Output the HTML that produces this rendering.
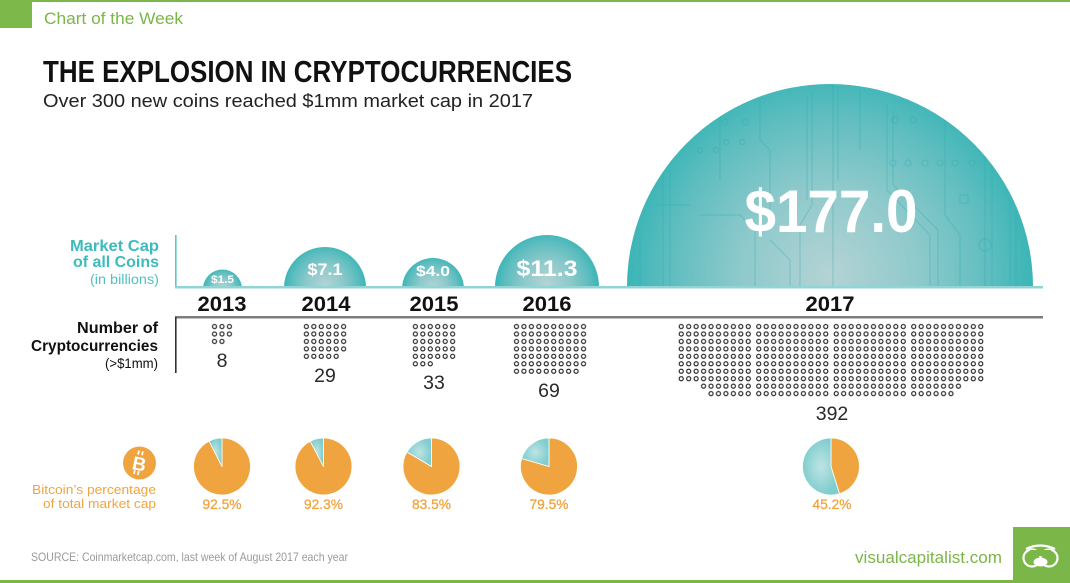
<!DOCTYPE html>
<html>
<head>
<meta charset="utf-8">
<style>
  html, body { margin:0; padding:0; background:#fff; }
  svg { display:block; font-family:"Liberation Sans", "DejaVu Sans", sans-serif; }
</style>
</head>
<body>
<svg width="1070" height="583" viewBox="0 0 1070 583" xmlns="http://www.w3.org/2000/svg">
  <defs>
    <radialGradient id="bub" cx="0.5" cy="0.47" r="0.5">
      <stop offset="0" stop-color="#b4d3d5"/>
      <stop offset="0.45" stop-color="#8dc9cb"/>
      <stop offset="0.8" stop-color="#5dbdbf"/>
      <stop offset="1" stop-color="#3ab5b6"/>
    </radialGradient>
    <radialGradient id="tealpie" cx="0.5" cy="0.5" r="0.5">
      <stop offset="0" stop-color="#bfe4e4"/>
      <stop offset="1" stop-color="#7fcdce"/>
    </radialGradient>
    <clipPath id="above"><rect x="0" y="0" width="1070" height="287"/></clipPath>
    <clipPath id="c17"><circle cx="830" cy="287" r="203"/></clipPath>
    <pattern id="dots" x="0" y="0" width="7.45" height="7.45" patternUnits="userSpaceOnUse">
      <circle cx="3.725" cy="3.725" r="2.05" fill="none" stroke="#1e1e1e" stroke-width="1.1"/>
    </pattern>
  </defs>

  <rect width="1070" height="583" fill="#fff"/>

  <!-- header -->
  <rect x="0" y="0" width="32" height="28" fill="#7db84a"/>
  <rect x="32" y="0" width="1038" height="2" fill="#7ab648"/>
  <text x="44" y="24" font-size="17" fill="#7ab648" textLength="139" lengthAdjust="spacingAndGlyphs">Chart of the Week</text>

  <text x="43" y="82" font-family="'Liberation Sans Narrow','Liberation Sans',sans-serif" font-weight="bold" font-size="30.5" fill="#111" textLength="529" lengthAdjust="spacingAndGlyphs">THE EXPLOSION IN CRYPTOCURRENCIES</text>
  <text x="43" y="107" font-size="18.5" fill="#222" textLength="490" lengthAdjust="spacingAndGlyphs">Over 300 new coins reached $1mm market cap in 2017</text>

  <!-- market cap labels -->
  <text x="159" y="251" text-anchor="end" font-weight="bold" font-size="15.5" fill="#3dbbbc" textLength="89" lengthAdjust="spacingAndGlyphs">Market Cap</text>
  <text x="159" y="267" text-anchor="end" font-weight="bold" font-size="15.5" fill="#3dbbbc" textLength="86" lengthAdjust="spacingAndGlyphs">of all Coins</text>
  <text x="159" y="284" text-anchor="end" font-size="13.5" fill="#4fc1c1" textLength="69" lengthAdjust="spacingAndGlyphs">(in billions)</text>

  <!-- bubbles -->
  <g clip-path="url(#above)">
    <circle cx="222.5" cy="289" r="19.5" fill="url(#bub)"/>
    <circle cx="325" cy="288" r="41" fill="url(#bub)"/>
    <circle cx="433" cy="289" r="31" fill="url(#bub)"/>
    <circle cx="547" cy="287" r="52" fill="url(#bub)"/>
    <circle cx="830" cy="287" r="203" fill="url(#bub)"/>
    <g clip-path="url(#c17)" fill="none" stroke="#2fa9ab" stroke-opacity="0.3" stroke-width="1.3">
      <path d="M807 95 V200 M812 92 V205 L800 225 V287 M833 85 V287 M838 86 V180 M887 105 V190 L930 235 V287 M893 110 V185 L938 230 V287 M945 110 V215 L960 235 V287 M985 150 V287 M992 160 V287 M663 175 V287 M670 170 V287 M700 215 H740 L755 230 V287 M760 100 V140 L770 150 V210 M720 110 V180 M655 205 H690 M770 240 L790 260 V287 M1010 200 V287 M1016 210 V287 M860 90 V150 M640 240 V287"/>
      <circle cx="893" cy="163" r="3"/><circle cx="908" cy="163" r="3"/><circle cx="925" cy="163" r="3"/>
      <circle cx="940" cy="163" r="3"/><circle cx="955" cy="163" r="3"/><circle cx="972" cy="163" r="3"/>
      <circle cx="725" cy="122" r="3"/><circle cx="745" cy="122" r="3"/>
      <circle cx="726" cy="142" r="2.5"/><circle cx="742" cy="142" r="2.5"/>
      <circle cx="700" cy="150" r="2.5"/><circle cx="716" cy="150" r="2.5"/>
      <circle cx="985" cy="245" r="6"/><circle cx="895" cy="120" r="3"/><circle cx="913" cy="120" r="3"/>
      <rect x="960" y="195" width="8" height="8"/>
    </g>
  </g>

  <!-- bubble values -->
  <g fill="#fff" font-weight="bold" text-anchor="middle">
    <text x="222.5" y="283" font-size="11" textLength="23" lengthAdjust="spacingAndGlyphs">$1.5</text>
    <text x="325" y="275" font-size="17" textLength="35" lengthAdjust="spacingAndGlyphs">$7.1</text>
    <text x="433" y="276" font-size="15" textLength="34" lengthAdjust="spacingAndGlyphs">$4.0</text>
    <text x="547" y="276" font-size="22" textLength="61" lengthAdjust="spacingAndGlyphs">$11.3</text>
    <text x="831" y="232" font-size="60" textLength="173" lengthAdjust="spacingAndGlyphs">$177.0</text>
  </g>

  <!-- teal axes -->
  <rect x="175" y="235" width="1.6" height="53" fill="#5ec6c6"/>
  <rect x="175" y="286" width="868" height="2.5" fill="#8fd5d5"/>

  <!-- years -->
  <g font-weight="bold" font-size="21" fill="#111" text-anchor="middle">
    <text x="222" y="311" textLength="49" lengthAdjust="spacingAndGlyphs">2013</text>
    <text x="326" y="311" textLength="49" lengthAdjust="spacingAndGlyphs">2014</text>
    <text x="434" y="311" textLength="49" lengthAdjust="spacingAndGlyphs">2015</text>
    <text x="547" y="311" textLength="49" lengthAdjust="spacingAndGlyphs">2016</text>
    <text x="830" y="311" textLength="49" lengthAdjust="spacingAndGlyphs">2017</text>
  </g>

  <!-- gray axes -->
  <rect x="175" y="316" width="868" height="2.5" fill="#7d7d7d"/>
  <rect x="175" y="317" width="1.6" height="56" fill="#333"/>

  <!-- number labels -->
  <text x="158" y="333" text-anchor="end" font-weight="bold" font-size="16" fill="#111" textLength="81" lengthAdjust="spacingAndGlyphs">Number of</text>
  <text x="158" y="351" text-anchor="end" font-weight="bold" font-size="16" fill="#111" textLength="127" lengthAdjust="spacingAndGlyphs">Cryptocurrencies</text>
  <text x="158" y="368" text-anchor="end" font-size="14" fill="#111" textLength="53" lengthAdjust="spacingAndGlyphs">(&gt;$1mm)</text>

  <!-- dot grids -->
  <!-- 2013 -->
  <g transform="translate(210.8,322.8)"><rect width="22.35" height="14.9" fill="url(#dots)"/></g>
  <g transform="translate(210.8,337.7)"><rect width="14.9" height="7.45" fill="url(#dots)"/></g>
  <!-- 2014 -->
  <g transform="translate(302.65,322.8)"><rect width="44.7" height="29.8" fill="url(#dots)"/></g>
  <g transform="translate(302.65,352.6)"><rect width="37.25" height="7.45" fill="url(#dots)"/></g>
  <!-- 2015 -->
  <g transform="translate(411.65,322.8)"><rect width="44.7" height="37.25" fill="url(#dots)"/></g>
  <g transform="translate(411.65,360.05)"><rect width="22.35" height="7.45" fill="url(#dots)"/></g>
  <!-- 2016 -->
  <g transform="translate(512.75,322.8)"><rect width="74.5" height="44.7" fill="url(#dots)"/></g>
  <g transform="translate(512.75,367.5)"><rect width="67.05" height="7.45" fill="url(#dots)"/></g>
  <!-- 2017 -->
  <g transform="translate(677.5,322.8)"><rect width="74.5" height="59.6" fill="url(#dots)"/></g>
  <g transform="translate(755,322.8)"><rect width="74.5" height="59.6" fill="url(#dots)"/></g>
  <g transform="translate(832.5,322.8)"><rect width="74.5" height="59.6" fill="url(#dots)"/></g>
  <g transform="translate(910,322.8)"><rect width="74.5" height="59.6" fill="url(#dots)"/></g>
  <g transform="translate(699.85,382.4)"><rect width="52.15" height="7.45" fill="url(#dots)"/></g>
  <g transform="translate(755,382.4)"><rect width="74.5" height="7.45" fill="url(#dots)"/></g>
  <g transform="translate(832.5,382.4)"><rect width="74.5" height="7.45" fill="url(#dots)"/></g>
  <g transform="translate(910,382.4)"><rect width="52.15" height="7.45" fill="url(#dots)"/></g>
  <g transform="translate(707.3,389.85)"><rect width="44.7" height="7.45" fill="url(#dots)"/></g>
  <g transform="translate(755,389.85)"><rect width="74.5" height="7.45" fill="url(#dots)"/></g>
  <g transform="translate(832.5,389.85)"><rect width="74.5" height="7.45" fill="url(#dots)"/></g>
  <g transform="translate(910,389.85)"><rect width="44.7" height="7.45" fill="url(#dots)"/></g>

  <!-- counts -->
  <g font-size="19.5" fill="#2a2a2a" text-anchor="middle">
    <text x="222" y="367">8</text>
    <text x="325" y="382">29</text>
    <text x="434" y="389">33</text>
    <text x="549" y="397">69</text>
    <text x="832" y="420">392</text>
  </g>

  <!-- bitcoin icon + label -->
  <circle cx="139.5" cy="463" r="16.5" fill="#f0a43f"/>
  <g transform="rotate(12 139.5 463)" fill="#fff">
    <rect x="135.5" y="451" width="1.8" height="4"/>
    <rect x="139.5" y="451" width="1.8" height="4"/>
    <rect x="135.5" y="471" width="1.8" height="4"/>
    <rect x="139.5" y="471" width="1.8" height="4"/>
    <text x="139.5" y="470.5" text-anchor="middle" font-weight="bold" font-size="19">B</text>
  </g>
  <text x="156" y="494" text-anchor="end" font-size="13" fill="#f0a43f" textLength="124" lengthAdjust="spacingAndGlyphs">Bitcoin’s percentage</text>
  <text x="156" y="508" text-anchor="end" font-size="13" fill="#f0a43f" textLength="113" lengthAdjust="spacingAndGlyphs">of total market cap</text>

  <!-- pies -->
  <g stroke="#fff" stroke-width="0.8" stroke-linejoin="round">
    <!-- 2013 92.5% -->
    <path d="M222 466.5 L222 438 A28.5 28.5 0 1 1 209.06 441.11 Z" fill="#f0a43f"/>
    <path d="M222 466.5 L209.06 441.11 A28.5 28.5 0 0 1 222 438 Z" fill="url(#tealpie)"/>
    <!-- 2014 92.3% -->
    <path d="M323.5 466.5 L323.5 438 A28.5 28.5 0 1 1 310.24 441.27 Z" fill="#f0a43f"/>
    <path d="M323.5 466.5 L310.24 441.27 A28.5 28.5 0 0 1 323.5 438 Z" fill="url(#tealpie)"/>
    <!-- 2015 83.5% -->
    <path d="M431.5 466.5 L431.5 438 A28.5 28.5 0 1 1 406.97 451.99 Z" fill="#f0a43f"/>
    <path d="M431.5 466.5 L406.97 451.99 A28.5 28.5 0 0 1 431.5 438 Z" fill="url(#tealpie)"/>
    <!-- 2016 79.5% -->
    <path d="M549 466.5 L549 438 A28.5 28.5 0 1 1 521.63 458.55 Z" fill="#f0a43f"/>
    <path d="M549 466.5 L521.63 458.55 A28.5 28.5 0 0 1 549 438 Z" fill="url(#tealpie)"/>
    <!-- 2017 45.2% -->
    <path d="M831 466.5 L831 438 A28.5 28.5 0 0 1 839.46 493.71 Z" fill="#f0a43f"/>
    <path d="M831 466.5 L839.46 493.71 A28.5 28.5 0 1 1 831 438 Z" fill="url(#tealpie)"/>
  </g>

  <!-- percentages -->
  <g font-size="13.5" fill="#f0a43f" stroke="#f0a43f" stroke-width="0.3" text-anchor="middle">
    <text x="222" y="509" textLength="39" lengthAdjust="spacingAndGlyphs">92.5%</text>
    <text x="323.5" y="509" textLength="39" lengthAdjust="spacingAndGlyphs">92.3%</text>
    <text x="431.5" y="509" textLength="39" lengthAdjust="spacingAndGlyphs">83.5%</text>
    <text x="549" y="509" textLength="39" lengthAdjust="spacingAndGlyphs">79.5%</text>
    <text x="832" y="509" textLength="39" lengthAdjust="spacingAndGlyphs">45.2%</text>
  </g>

  <!-- footer -->
  <text x="31" y="561" font-size="12" fill="#9a9a9a" textLength="317" lengthAdjust="spacingAndGlyphs">SOURCE: Coinmarketcap.com, last week of August 2017 each year</text>
  <text x="855" y="563" font-size="17" fill="#7ab648" textLength="147" lengthAdjust="spacingAndGlyphs">visualcapitalist.com</text>
  <rect x="1013" y="527" width="57" height="54" fill="#7ab648"/>
  <g fill="none" stroke="#fff" stroke-width="2.2">
    <circle cx="1032" cy="558" r="8.5"/>
    <circle cx="1049" cy="558" r="8.5"/>
  </g>
  <rect x="1030" y="550" width="21" height="6" fill="#7ab648"/>
  <path d="M1026 549 Q1040 542 1055 549" fill="none" stroke="#fff" stroke-width="2.2"/>
  <ellipse cx="1040.5" cy="562" rx="7" ry="4.5" fill="#fff"/>
  <rect x="0" y="580" width="1070" height="3" fill="#7ab648"/>
</svg>
</body>
</html>
